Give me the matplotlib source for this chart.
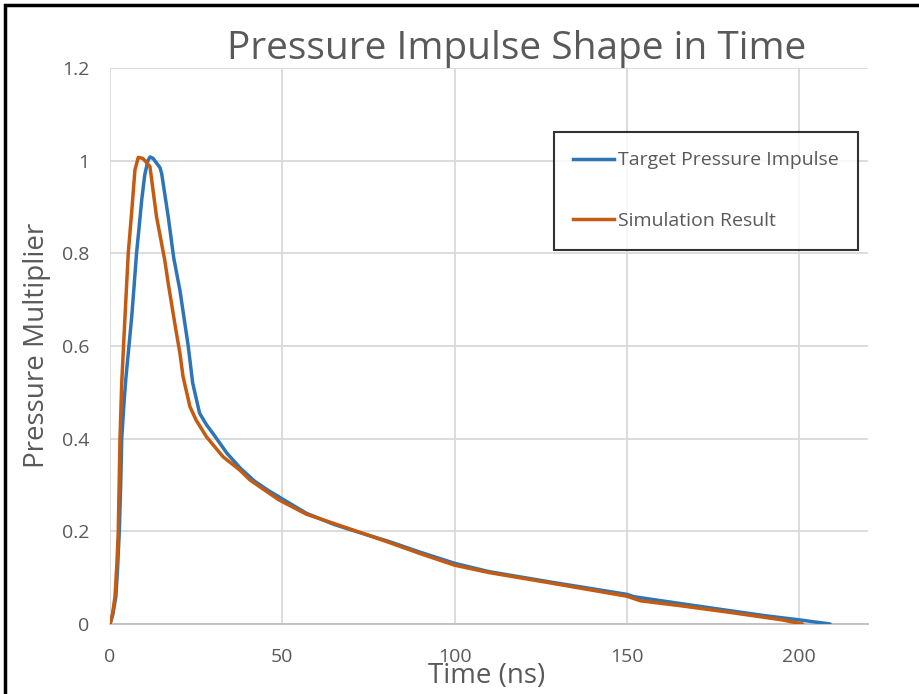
import matplotlib
matplotlib.use("Agg")
import matplotlib.pyplot as plt
from matplotlib.patches import Rectangle
from matplotlib.lines import Line2D

# Target pressure impulse
t_target = [0, 0.8, 1.7, 2.2, 2.7, 3.1, 3.4, 4.0, 4.6, 5.5, 6.3, 7.0, 7.7, 8.5, 9.2, 10.1,
            11, 11.6, 12.5, 13.5, 14.5, 15, 16.9, 18.5, 20.3, 22.7, 24, 26, 28, 30, 34, 38,
            42, 46, 50, 57, 65, 70, 81, 90, 100, 110, 127.5, 140, 150, 152, 162, 175, 190,
            200, 209]
p_target = [0, 0.02, 0.059, 0.12, 0.2, 0.3, 0.4, 0.47, 0.53, 0.6, 0.663, 0.73, 0.8, 0.86,
            0.915, 0.97, 1.0, 1.008, 1.005, 0.995, 0.985, 0.972, 0.879, 0.79, 0.72, 0.60,
            0.52, 0.455, 0.43, 0.41, 0.368, 0.335, 0.308, 0.288, 0.27, 0.239, 0.215, 0.203,
            0.178, 0.155, 0.131, 0.113, 0.091, 0.076, 0.064, 0.059, 0.048, 0.034, 0.018,
            0.009, 0]

# Simulation result
t_sim = [0, 0.7, 1.45, 2.0, 2.4, 2.9, 3.4, 4.35, 5.3, 6.3, 7.24, 8.2, 9.5, 10.5, 11.6,
         13.5, 15.9, 16.9, 19, 20.3, 21.2, 23.2, 25, 28, 32.8, 37.7, 40.6, 43.5, 49, 57,
         70.5, 81, 90, 100, 110, 127.5, 150, 154, 165, 180, 195, 201]
p_sim = [0, 0.02, 0.059, 0.13, 0.2, 0.4, 0.52, 0.663, 0.8, 0.89, 0.98, 1.007, 1.005, 0.997,
         0.987, 0.879, 0.785, 0.735, 0.64, 0.584, 0.534, 0.469, 0.44, 0.404, 0.361, 0.332,
         0.311, 0.296, 0.268, 0.237, 0.203, 0.176, 0.152, 0.127, 0.111, 0.089, 0.06, 0.05,
         0.04, 0.025, 0.009, 0]

x_ticks = [0, 50, 100, 150, 200]
y_ticks = [0, 0.2, 0.4, 0.6, 0.8, 1.0, 1.2]
y_tick_labels = ["0", "0.2", "0.4", "0.6", "0.8", "1", "1.2"]

plt.rcParams['font.family'] = ['Open Sans', 'DejaVu Sans']
text_col = "#595959"
blue = "#2E75B6"
orange = "#C55A11"

fig = plt.figure(figsize=(9.19, 6.94), dpi=100)
ax = fig.add_axes([110/919, 70/694, (868-110)/919, (624-68)/694])

ax.plot(t_target, p_target, color=blue, lw=2.5, solid_capstyle='round',
        solid_joinstyle='round', zorder=3)
ax.plot(t_sim, p_sim, color=orange, lw=2.5, solid_capstyle='round',
        solid_joinstyle='round', zorder=4)

ax.set_xlim(0, 220)
ax.set_ylim(0, 1.2)
ax.set_xticks(x_ticks)
ax.set_yticks(y_ticks)
ax.set_yticklabels(y_tick_labels)
ax.grid(True, color="#D9D9D9", lw=1.3)
ax.set_axisbelow(True)
for s in ["top", "right", "left"]:
    ax.spines[s].set_visible(False)
ax.spines["bottom"].set_color("#BFBFBF")
ax.spines["bottom"].set_linewidth(1.3)
ax.tick_params(axis='both', length=0, labelsize=14, labelcolor=text_col)
ax.tick_params(axis='x', pad=17)
ax.tick_params(axis='y', pad=15)

fig.text(487/919, 1 - 676/694, "Time (ns)", ha='center', va='center', fontsize=20, color=text_col)
fig.text(37/919, 1 - 345/694, "Pressure Multiplier", ha='center', va='center', rotation=90,
         fontsize=20, color=text_col)
fig.text(517/919, 1 - 49/694, "Pressure Impulse Shape in Time", ha='center', va='center',
         fontsize=28, color=text_col)

handles = [Line2D([], [], color=blue, lw=2.5), Line2D([], [], color=orange, lw=2.5)]
leg = ax.legend(handles, ["Target Pressure Impulse", "Simulation Result"],
                loc='upper left', bbox_to_anchor=((554-110)/758, (624-132)/556),
                fontsize=14, labelcolor=text_col, frameon=True, fancybox=False,
                edgecolor='black', handlelength=2.1, handletextpad=0.2,
                labelspacing=2.2, borderpad=1.0, borderaxespad=0)
leg.get_frame().set_linewidth(1.5)

fig.patches.append(Rectangle((5/919, -0.1), 1.2, 1 - 5/694 + 0.1, transform=fig.transFigure,
                             fill=False, edgecolor='black', lw=2.5))

fig.savefig("out.png", dpi=100)
